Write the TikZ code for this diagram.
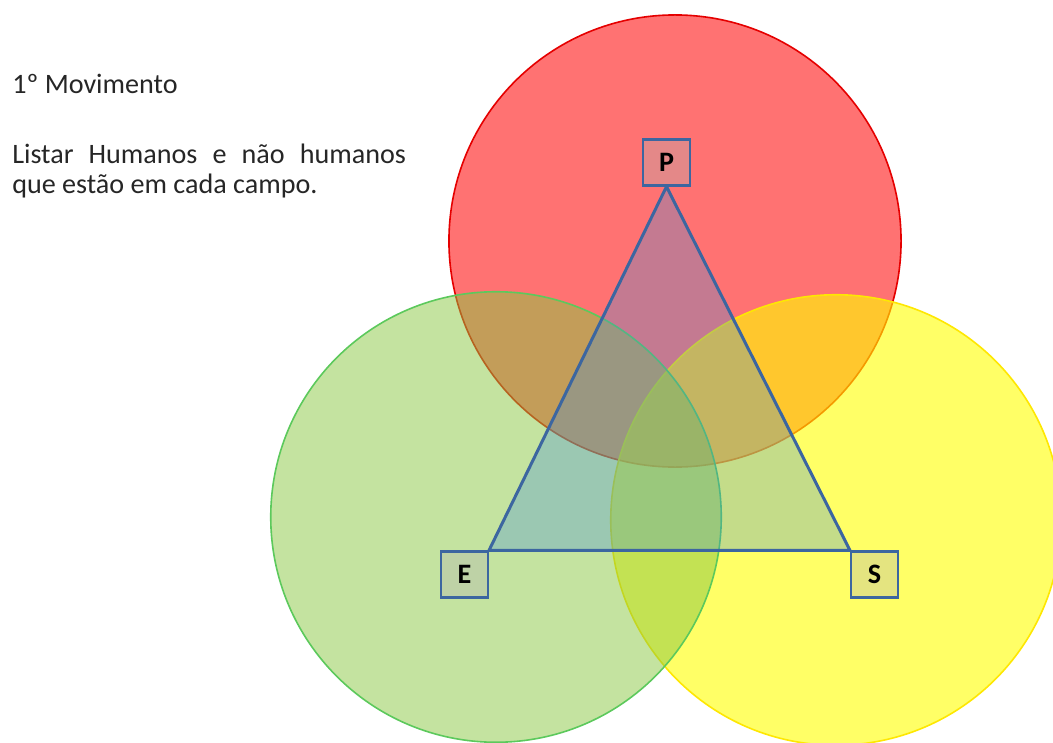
\documentclass[tikz,border=0pt]{standalone}
\usepackage{fontspec}
\setmainfont{Carlito}
\usepackage{tikz}
\usetikzlibrary{calc}

\definecolor{campored}{RGB}{255,20,20}
\definecolor{campogreen}{RGB}{137,199,65}
\definecolor{campoyellow}{RGB}{255,255,0}
\definecolor{triblue}{RGB}{60,140,220}
\definecolor{triline}{RGB}{60,102,160}

\tikzset{
	campo/.style={line width=0.4mm, fill opacity=0.6},
	vertice/.style={draw=triline, line width=0.55mm, fill=gray!60, fill opacity=0.35, text opacity=1,
		minimum width=1.17cm, minimum height=1.15cm, inner sep=0pt,
		font=\bfseries\fontsize{20}{24}\selectfont},
	texto/.style={anchor=base west, inner sep=0pt, text=black!85, font=\fontsize{20}{21.5}\selectfont}
}

\begin{document}
\begin{tikzpicture}[x=0.025cm, y=-0.025cm]
			%%%%% START %%%%%
			\useasboundingbox (0, 0) rectangle (1053, 743);
			
			\node[texto] (titulo) at (12, 93) {1º Movimento};
			\node[texto, text width=280pt, align=justify] (tarefa) at (12, 163) {Listar Humanos e não humanos que estão em cada campo.};
			
			\begin{scope}
				\clip (0, 0) rectangle (1053, 743);
				\draw[campo, draw=red!90!black, fill=campored] (675, 241) circle (5.65cm);
				\draw[campo, draw=yellow!90!orange, fill=campoyellow] (836, 520) circle (5.63cm);
				\draw[campo, draw=green!50!gray!85!white, fill=campogreen, fill opacity=0.5] (496, 517) circle (5.63cm);
			\end{scope}
			
			\node[vertice] (P) at (666.5, 162.5) {P};
			\node[vertice] (E) at (464.5, 574.5) {E};
			\node[vertice] (S) at (874.5, 574.5) {S};
			
			\draw[line width=0.75mm, draw=triline, fill=triblue, fill opacity=0.3, line join=round]
				(P.south) -- (E.north east) -- (S.north west) -- cycle;
			
			%%%%% END %%%%%
\end{tikzpicture}
\end{document}
